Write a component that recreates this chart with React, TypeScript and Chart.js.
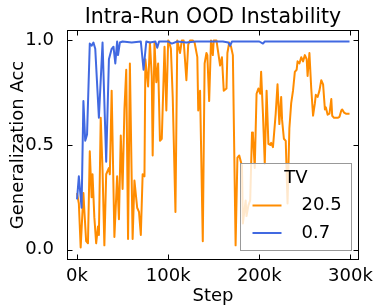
import React, { useEffect, useRef } from 'react';
import { Chart, registerables } from 'chart.js';

Chart.register(...registerables);

const chartTitle = 'Intra-Run OOD Instability';
const xTitle = 'Step';
const yTitle = 'Generalization Acc';
const legendTitle = 'TV';
const seriesLabels = ['20.5', '0.7'];
const seriesColors = ['#ff8c00', '#4169e1'];

const xTicks = [0, 100000, 200000, 300000];
const xTickLabels = ['0k', '100k', '200k', '300k'];
const yTicks = [0, 0.5, 1.0];
const yTickLabels = ['0.0', '0.5', '1.0'];

// steps in thousands
const orangeSteps = [
  0, 2, 4, 7, 8, 10, 12, 14, 16, 17, 19, 21, 23, 24, 26, 28, 30, 32, 35, 36,
  38, 41, 44, 46, 48, 50, 52, 54, 56, 58, 61, 63, 66, 68, 70, 72, 74, 75, 78, 80,
  82, 83, 85, 87, 89, 91, 93, 96, 98, 100, 101, 103, 105, 108, 110, 113, 115, 117, 120, 122,
  124, 127, 129, 132, 133, 135, 138, 140, 142, 143, 145, 147, 149, 150, 153, 155, 157, 159, 161, 164,
  165, 167, 169, 171, 174, 176, 178, 181, 182, 185, 186, 188, 190, 192, 193, 195, 197, 199, 201, 202,
  204, 206, 208, 210, 212, 213, 215, 218, 220, 222, 224, 225, 227, 229, 231, 233, 235, 237, 239, 241,
  242, 244, 246, 248, 250, 252, 253, 255, 257, 259, 261, 262, 264, 266, 268, 270, 272, 273, 275, 277,
  279, 280, 282, 284, 286, 288, 290, 291, 293, 295, 297, 299,
];
const orangeAcc = [
  0.27, 0.22, 0.01, 0.27, 0.19, 0.04, 0.03, 0.47, 0.25, 0.36, 0.155, 0.03, 0.11, 0.07, 0.63, 0.38, 0.02, 0.36, 0.39, 0.36,
  0.76, 0.06, 0.35, 0.145, 0.545, 0.29, 0.67, 0.86, 0.05, 0.89, 0.05, 0.33, 0.2, 0.18, 0.07, 0.36, 0.35, 0.91, 0.78, 0.99,
  0.83, 0.45, 0.99, 0.8, 0.89, 0.52, 0.53, 0.97, 0.665, 1.0, 0.995, 0.96, 0.73, 0.18, 1.0, 0.94, 1.0, 1.0, 0.81, 0.98,
  1.0, 1.0, 0.99, 0.92, 0.665, 0.76, 0.04, 0.89, 0.94, 0.93, 0.71, 1.0, 0.93, 1.0, 1.0, 0.94, 0.88, 0.92, 0.76, 0.77,
  0.94, 0.99, 0.97, 0.93, 0.02, 0.44, 0.45, 0.4, 0.125, 0.235, 0.16, 0.21, 0.235, 0.56, 0.55, 0.39, 0.745, 0.77, 0.745, 0.85,
  0.65, 0.41, 0.76, 0.505, 0.5, 0.51, 0.49, 0.65, 0.79, 0.6, 0.73, 0.62, 0.53, 0.52, 0.22, 0.58, 0.7, 0.76, 0.85, 0.86,
  0.9, 0.89, 0.92, 0.9, 0.93, 0.91, 0.83, 0.94, 0.77, 0.64, 0.7, 0.74, 0.73, 0.76, 0.81, 0.79, 0.67, 0.68, 0.645, 0.65,
  0.72, 0.64, 0.63, 0.63, 0.63, 0.635, 0.665, 0.67, 0.655, 0.65, 0.65, 0.65,
];

const blueSteps = [
  0, 2, 5, 7, 9, 11, 14, 16, 18, 20, 24, 28, 32, 35, 38, 40, 42, 44, 45, 47,
  50, 60, 70, 73, 76, 80, 86, 88, 90, 100, 104, 110, 120, 130, 140, 150, 160, 166, 168, 170,
  180, 190, 200, 204, 206, 220, 240, 260, 280, 299,
];
const blueAcc = [
  0.24, 0.35, 0.2, 0.71, 0.52, 0.55, 0.985, 0.975, 0.99, 0.96, 0.63, 0.99, 0.42, 0.91, 0.96, 0.97, 0.89, 0.995, 0.93, 0.99,
  0.995, 0.99, 0.995, 0.86, 0.995, 0.99, 0.995, 0.965, 0.995, 0.995, 0.985, 0.995, 0.99, 0.995, 0.995, 0.995, 0.995, 0.99, 0.975, 0.995,
  0.995, 0.995, 0.995, 0.985, 0.995, 0.995, 0.995, 0.995, 0.995, 0.995,
];

const FONT = 'DejaVu Sans';

const framePlugin = {
  id: 'frameAndLegend',
  afterDatasetsDraw(chart: any) {
    const { ctx, chartArea: a, scales } = chart;
    ctx.save();
    const L = Math.round(a.left) + 0.5;
    const R = Math.round(a.right) - 0.5;
    const T = Math.round(a.top) + 0.5;
    const B = Math.round(a.bottom) - 0.5;

    // legend
    const lw = 111;
    const lh = 87;
    const lx = Math.round(a.right - 8 - lw) + 0.5;
    const ly = Math.round(a.bottom - 10 - lh) + 0.5;
    ctx.fillStyle = 'rgba(255,255,255,0.8)';
    ctx.fillRect(lx, ly, lw, lh);
    ctx.strokeStyle = '#999999';
    ctx.lineWidth = 1;
    ctx.strokeRect(lx, ly, lw, lh);
    ctx.fillStyle = '#000';
    ctx.font = `18px "${FONT}"`;
    ctx.textBaseline = 'middle';
    ctx.textAlign = 'center';
    ctx.fillText(legendTitle, lx + lw / 2, ly + 15);
    ctx.textAlign = 'left';
    const ds = chart.data.datasets;
    ds.forEach((d: any, i: number) => {
      const yy = ly + 42 + i * 27.5;
      ctx.strokeStyle = d.borderColor;
      ctx.lineWidth = 2;
      ctx.beginPath();
      ctx.moveTo(lx + 12, yy);
      ctx.lineTo(lx + 41, yy);
      ctx.stroke();
      ctx.fillStyle = '#000';
      ctx.fillText(d.label, lx + 61, yy);
    });

    // frame
    ctx.strokeStyle = '#000';
    ctx.lineWidth = 1;
    ctx.strokeRect(L, T, R - L, B - T);

    // inward ticks on all sides
    ctx.beginPath();
    for (const v of xTicks) {
      const p = Math.round(scales.x.getPixelForValue(v)) + 0.5;
      ctx.moveTo(p, B);
      ctx.lineTo(p, B - 5);
      ctx.moveTo(p, T);
      ctx.lineTo(p, T + 5);
    }
    for (const v of yTicks) {
      const p = Math.round(scales.y.getPixelForValue(v)) + 0.5;
      ctx.moveTo(L, p);
      ctx.lineTo(L + 5, p);
      ctx.moveTo(R, p);
      ctx.lineTo(R - 5, p);
    }
    ctx.stroke();
    ctx.restore();
  },
};

export default function App() {
  const ref = useRef<HTMLCanvasElement | null>(null);
  useEffect(() => {
    if (!ref.current) return;
    Chart.defaults.font.family = FONT;
    Chart.defaults.color = '#000';
    const chart = new Chart(ref.current, {
      type: 'line',
      data: {
        datasets: [
          {
            label: seriesLabels[0],
            data: orangeSteps.map((s, i) => ({ x: s * 1000, y: orangeAcc[i] })),
            borderColor: seriesColors[0],
            backgroundColor: seriesColors[0],
            borderWidth: 2,
            borderJoinStyle: 'round',
            pointRadius: 0,
            tension: 0,
            order: 1,
          },
          {
            label: seriesLabels[1],
            data: blueSteps.map((s, i) => ({ x: s * 1000, y: blueAcc[i] })),
            borderColor: seriesColors[1],
            backgroundColor: seriesColors[1],
            borderWidth: 2,
            borderJoinStyle: 'round',
            pointRadius: 0,
            tension: 0,
            order: 0,
          },
        ],
      },
      options: {
        animation: false,
        responsive: false,
        layout: { padding: { left: 0, right: 17, top: 0, bottom: 0 } },
        plugins: {
          legend: { display: false },
          tooltip: { enabled: false },
          title: {
            display: true,
            text: chartTitle,
            fullSize: false,
            color: '#000',
            font: { family: FONT, size: 20.5, weight: 'normal' },
            padding: { top: 5.4, bottom: 0 },
          },
        },
        scales: {
          x: {
            type: 'linear',
            min: -11000,
            max: 309400,
            grid: { display: false },
            border: { display: false },
            afterBuildTicks: (s: any) => {
              s.ticks = xTicks.map((v) => ({ value: v }));
            },
            afterFit: (s: any) => {
              s.height = 46;
              s.paddingLeft = 0;
              s.paddingRight = 0;
            },
            ticks: {
              autoSkip: false,
              maxRotation: 0,
              padding: -2,
              color: '#000',
              font: { family: FONT, size: 18 },
              callback: (v: any) => xTickLabels[xTicks.indexOf(Number(v))] ?? '',
            },
            title: {
              display: true,
              text: xTitle,
              color: '#000',
              font: { family: FONT, size: 18 },
              padding: { top: 0, bottom: -1.5 },
            },
          },
          y: {
            type: 'linear',
            min: -0.05,
            max: 1.05,
            grid: { display: false },
            border: { display: false },
            afterBuildTicks: (s: any) => {
              s.ticks = yTicks.map((v) => ({ value: v }));
            },
            afterFit: (s: any) => {
              s.width = 67;
              s.paddingTop = 0;
              s.paddingBottom = 0;
            },
            ticks: {
              autoSkip: false,
              padding: 5,
              color: '#000',
              font: { family: FONT, size: 18 },
              callback: (v: any) => yTickLabels[yTicks.indexOf(Number(v))] ?? '',
            },
            title: {
              display: true,
              text: yTitle,
              color: '#000',
              font: { family: FONT, size: 18 },
              padding: { top: 8, bottom: 0 },
            },
          },
        },
      },
      plugins: [framePlugin],
    } as any);
    return () => chart.destroy();
  }, []);
  return (
    <div style={{ position: 'fixed', left: 0, top: 0, width: 376, height: 306, background: '#fff' }}>
      <canvas ref={ref} width={376} height={306} />
    </div>
  );
}
